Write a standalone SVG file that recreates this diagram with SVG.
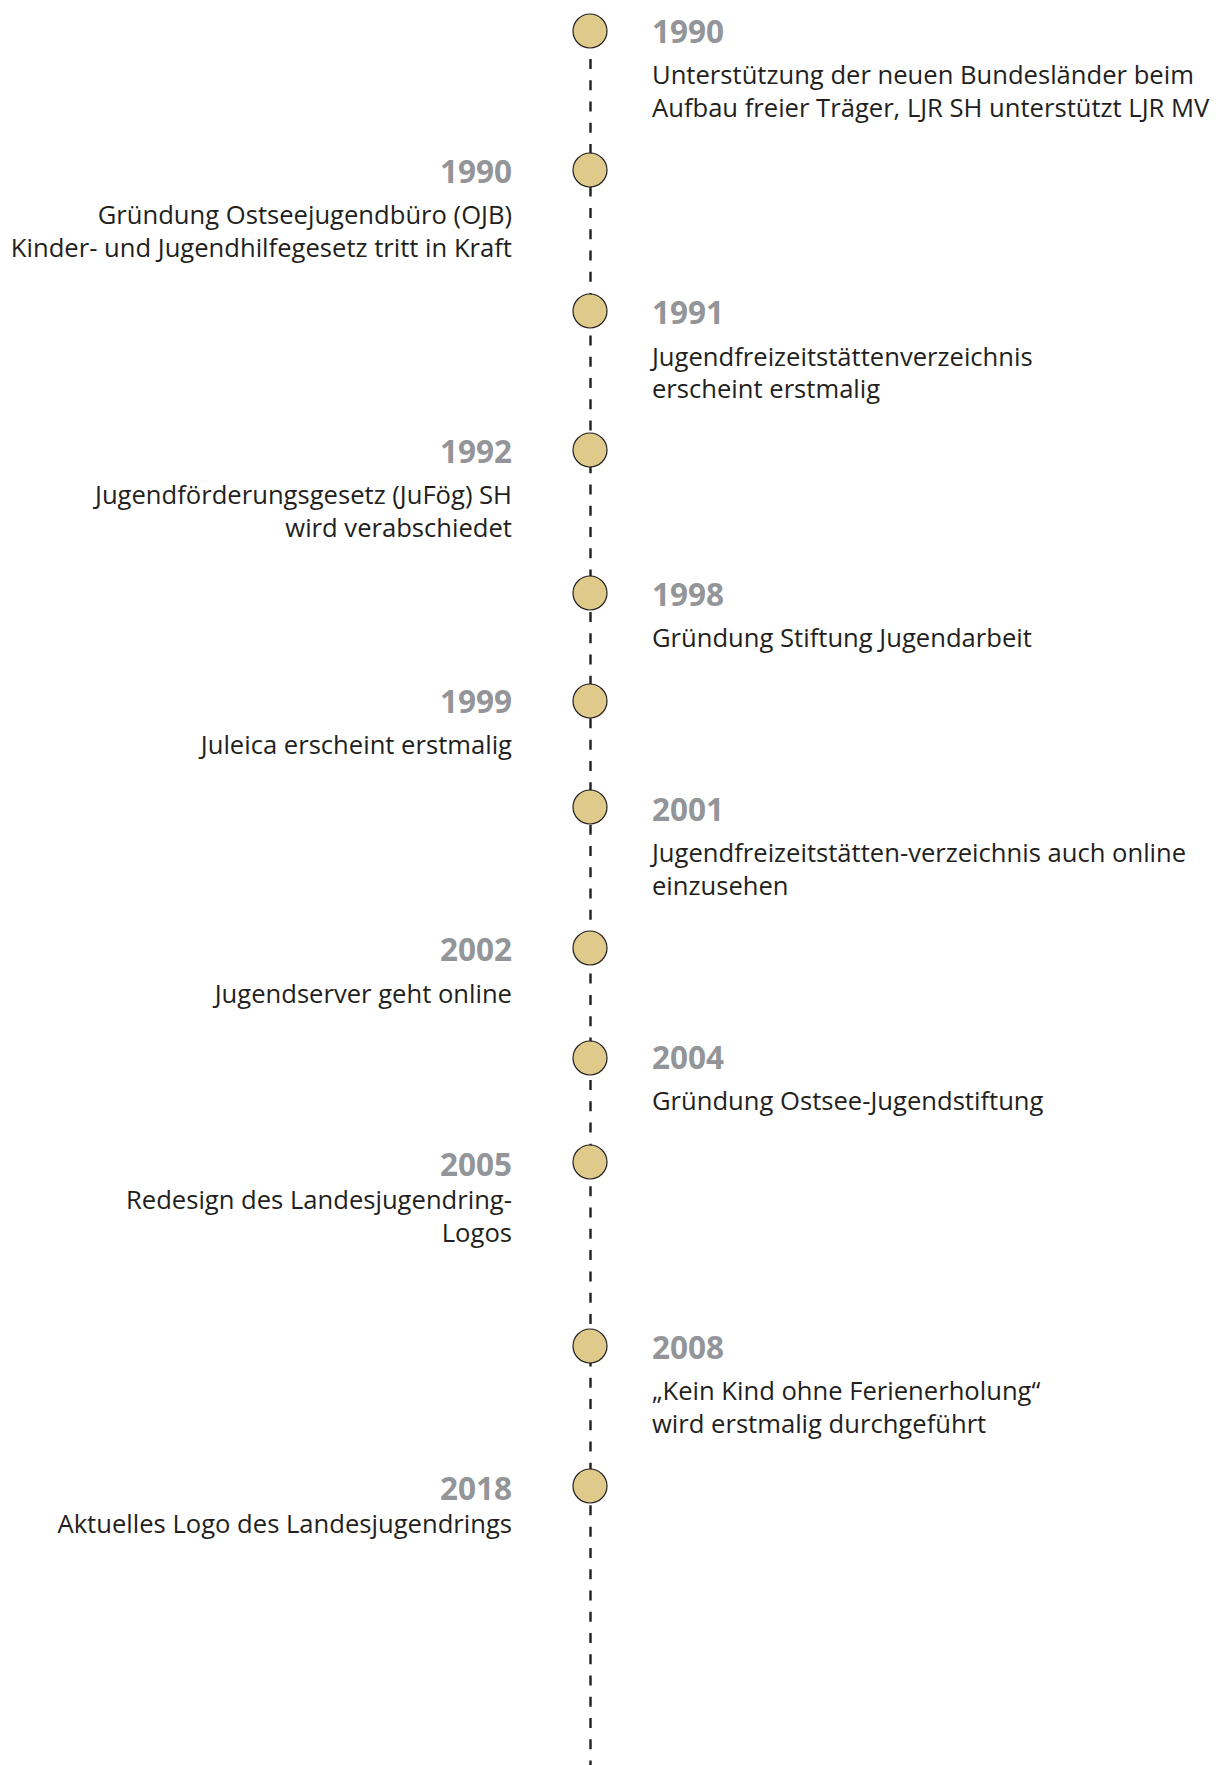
<svg xmlns="http://www.w3.org/2000/svg" width="1218" height="1765" viewBox="0 0 1218 1765">
<style>
.dot{fill:#dfca8c;stroke:#231f20;stroke-width:1.2}
.yr{font-family:"Open Sans","Noto Sans",sans-serif;font-weight:700;font-size:31.5px;fill:#939598}
.tx{font-family:"Open Sans","Noto Sans",sans-serif;font-size:25.6px;fill:#231f20}
.r{text-anchor:start}
.l{text-anchor:end}
.axis{stroke:#231f20;stroke-width:2.4;stroke-dasharray:10 11.27;fill:none}
</style>
<rect width="1218" height="1765" fill="#ffffff"/>
<g id="connectors">
<line class="axis" x1="590.5" y1="59" x2="590.5" y2="1765"/>
</g>
<g id="n1990a"><circle class="dot" cx="590" cy="31" r="17"/><text class="yr r" x="652" y="43">1990</text><text class="tx r" x="652" y="84">Unterstützung der neuen Bundesländer beim</text><text class="tx r" x="652" y="117">Aufbau freier Träger, LJR SH unterstützt LJR MV</text></g>
<g id="n1990b"><circle class="dot" cx="590" cy="170" r="17"/><text class="yr l" x="512" y="183">1990</text><text class="tx l" x="512" y="224">Gründung Ostseejugendbüro (OJB)</text><text class="tx l" x="512" y="257">Kinder- und Jugendhilfegesetz tritt in Kraft</text></g>
<g id="n1991"><circle class="dot" cx="590" cy="311" r="17"/><text class="yr r" x="652" y="324">1991</text><text class="tx r" x="652" y="366">Jugendfreizeitstättenverzeichnis</text><text class="tx r" x="652" y="398">erscheint erstmalig</text></g>
<g id="n1992"><circle class="dot" cx="590" cy="450" r="17"/><text class="yr l" x="512" y="463">1992</text><text class="tx l" x="512" y="504">Jugendförderungsgesetz (JuFög) SH</text><text class="tx l" x="512" y="537">wird verabschiedet</text></g>
<g id="n1998"><circle class="dot" cx="590" cy="593" r="17"/><text class="yr r" x="652" y="606">1998</text><text class="tx r" x="652" y="647">Gründung Stiftung Jugendarbeit</text></g>
<g id="n1999"><circle class="dot" cx="590" cy="701" r="17"/><text class="yr l" x="512" y="713">1999</text><text class="tx l" x="512" y="754">Juleica erscheint erstmalig</text></g>
<g id="n2001"><circle class="dot" cx="590" cy="807" r="17"/><text class="yr r" x="652" y="821">2001</text><text class="tx r" x="652" y="862">Jugendfreizeitstätten-verzeichnis auch online</text><text class="tx r" x="652" y="895">einzusehen</text></g>
<g id="n2002"><circle class="dot" cx="590" cy="948" r="17"/><text class="yr l" x="512" y="961">2002</text><text class="tx l" x="512" y="1003">Jugendserver geht online</text></g>
<g id="n2004"><circle class="dot" cx="590" cy="1058" r="17"/><text class="yr r" x="652" y="1069">2004</text><text class="tx r" x="652" y="1110">Gründung Ostsee-Jugendstiftung</text></g>
<g id="n2005"><circle class="dot" cx="590" cy="1162" r="17"/><text class="yr l" x="512" y="1176">2005</text><text class="tx l" x="512" y="1209">Redesign des Landesjugendring-</text><text class="tx l" x="512" y="1242">Logos</text></g>
<g id="n2008"><circle class="dot" cx="590" cy="1346" r="17"/><text class="yr r" x="652" y="1359">2008</text><text class="tx r" x="652" y="1400">„Kein Kind ohne Ferienerholung“</text><text class="tx r" x="652" y="1433">wird erstmalig durchgeführt</text></g>
<g id="n2018"><circle class="dot" cx="590" cy="1486" r="17"/><text class="yr l" x="512" y="1500">2018</text><text class="tx l" x="512" y="1533">Aktuelles Logo des Landesjugendrings</text></g>
</svg>
